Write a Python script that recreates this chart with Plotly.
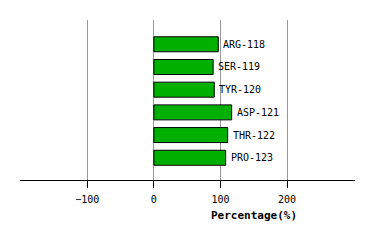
import plotly.graph_objects as go

residues = ["ARG-118", "SER-119", "TYR-120", "ASP-121", "THR-122", "PRO-123"]
percentages = [96.7, 89.0, 90.7, 116.8, 110.8, 107.8]
tick_values = [-100, 0, 100, 200]
tick_labels = ["\u2212100", "0", "100", "200"]

positions = list(range(len(residues)))

fig = go.Figure()
fig.add_trace(go.Bar(
    x=percentages, y=positions, orientation="h",
    marker=dict(color="#00b000", line=dict(color="black", width=1)),
    width=0.66, showlegend=False, hoverinfo="skip",
))
for p, v, lab in zip(positions, percentages, residues):
    fig.add_annotation(x=v, y=p, text=lab, showarrow=False, xanchor="left",
                       xshift=3, font=dict(family="DejaVu Sans Mono", size=10, color="black"))

fig.add_annotation(x=150, y=0, xref="x", yref="paper", yshift=-44, text="<b>Percentage(%)</b>",
                   showarrow=False, font=dict(family="DejaVu Sans Mono", size=11, color="black"))

fig.update_layout(
    width=374, height=240,
    margin=dict(l=20, r=19, t=20, b=60),
    plot_bgcolor="white", paper_bgcolor="white",
    xaxis=dict(range=[-201, 302], tickvals=tick_values, ticktext=tick_labels,
               showgrid=True, gridcolor="#999999", gridwidth=1,
               zeroline=False, showline=True, linecolor="black", linewidth=1,
               ticks="outside", ticklen=7, tickcolor="black", ticklabelstandoff=3,
               tickfont=dict(family="DejaVu Sans Mono", size=10, color="black")),
    yaxis=dict(range=[5.98, -1.07], showticklabels=False, showgrid=False,
               zeroline=False, showline=False, ticks=""),
)

fig.write_html("out.html")
